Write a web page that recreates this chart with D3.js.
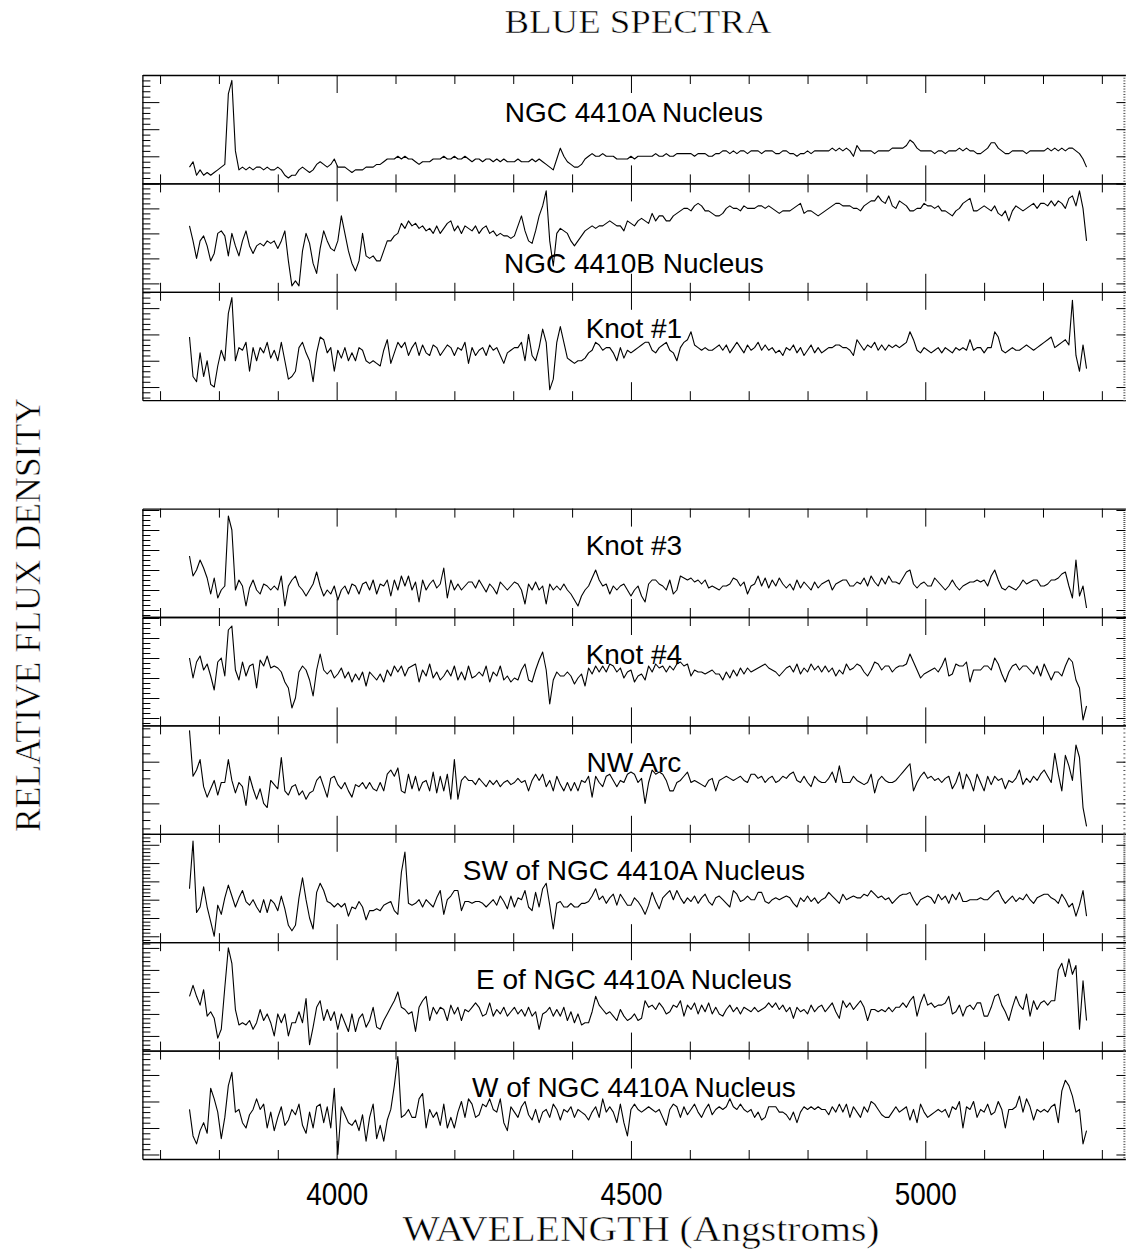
<!DOCTYPE html>
<html>
<head>
<meta charset="utf-8">
<script src="https://cdn.jsdelivr.net/npm/d3@7"></script>
<style>
  body { margin: 0; background: #fff; }
  svg { display: block; }
</style>
</head>
<body>
<svg id="chart" width="1130" height="1255"></svg>
<script>
// wavelength grid shared by all spectra (Angstroms, 6 A bins)
const wavelengths = d3.range(3750, 5275, 6);

const panelNames = ["NGC 4410A Nucleus", "NGC 4410B Nucleus", "Knot #1", "Knot #3", "Knot #4",
  "NW Arc", "SW of NGC 4410A Nucleus", "E of NGC 4410A Nucleus", "W of NGC 4410A Nucleus"];

const xTickLabels = [4000, 4500, 5000];

// relative flux, one value per wavelength bin (rows of 10 bins = 60 A)
const flux4410A = [
  6, 8, 3, 5, 3, 4, 3, 4, 5, 6,
  7, 33, 38, 12, 5, 6, 5, 6, 5, 6,
  6, 5, 6, 5, 5, 6, 5, 3, 2, 3,
  3, 5, 6, 5, 4, 5, 7, 8, 7, 6,
  7, 9, 6, 6, 6, 5, 4, 5, 5, 5,
  6, 6, 6, 7, 7, 8, 9, 9, 9, 10,
  9, 10, 9, 9, 8, 7, 8, 8, 8, 9,
  9, 9, 10, 9, 9, 10, 9, 9, 10, 9,
  8, 9, 9, 8, 9, 9, 8, 9, 8, 9,
  8, 8, 8, 9, 8, 8, 8, 9, 8, 9,
  8, 7, 6, 5, 9, 13, 10, 8, 7, 6,
  6, 7, 9, 10, 11, 10, 10, 11, 10, 10,
  10, 9, 9, 9, 9, 10, 9, 10, 10, 10,
  10, 10, 11, 10, 10, 11, 10, 10, 11, 11,
  11, 11, 11, 10, 11, 11, 11, 10, 10, 11,
  11, 12, 12, 11, 12, 11, 12, 12, 11, 12,
  12, 12, 11, 12, 12, 12, 11, 11, 12, 12,
  11, 11, 10, 11, 11, 12, 11, 12, 12, 12,
  12, 12, 13, 12, 13, 12, 13, 12, 10, 14,
  12, 12, 12, 12, 11, 12, 12, 12, 12, 13,
  13, 13, 13, 14, 16, 15, 13, 12, 12, 12,
  12, 11, 12, 12, 11, 12, 12, 12, 13, 12,
  13, 12, 12, 11, 11, 12, 13, 15, 15, 13,
  12, 11, 11, 12, 12, 12, 12, 11, 12, 12,
  12, 12, 12, 13, 12, 13, 12, 13, 12, 13,
  13, 12, 11, 9, 6
];

const flux4410B = [
  33, 27, 20, 27, 29, 25, 19, 22, 30, 31,
  29, 21, 30, 25, 21, 27, 31, 25, 22, 25,
  26, 25, 27, 26, 27, 24, 27, 31, 19, 9,
  11, 9, 23, 30, 26, 18, 14, 24, 31, 27,
  24, 23, 27, 37, 30, 23, 18, 15, 19, 30,
  21, 20, 21, 19, 19, 23, 27, 27, 29, 30,
  34, 32, 35, 33, 34, 32, 33, 31, 32, 30,
  33, 30, 32, 34, 35, 31, 33, 30, 33, 32,
  31, 33, 30, 32, 33, 30, 31, 29, 30, 29,
  29, 28, 29, 33, 37, 31, 27, 26, 31, 37,
  41, 47, 27, 17, 30, 32, 31, 30, 27, 25,
  27, 29, 31, 32, 33, 32, 33, 33, 34, 35,
  34, 33, 33, 31, 35, 34, 33, 35, 36, 35,
  34, 38, 35, 37, 37, 35, 35, 37, 38, 39,
  40, 40, 39, 41, 42, 41, 39, 39, 38, 37,
  37, 38, 40, 41, 40, 40, 39, 41, 40, 40,
  40, 41, 41, 40, 41, 40, 39, 38, 39, 39,
  39, 40, 41, 42, 38, 39, 39, 38, 37, 38,
  39, 40, 41, 42, 42, 41, 41, 41, 40, 40,
  39, 41, 42, 43, 43, 45, 43, 42, 45, 41,
  40, 43, 42, 41, 39, 39, 40, 40, 42, 41,
  41, 40, 41, 39, 39, 38, 37, 39, 40, 42,
  43, 44, 39, 39, 40, 41, 40, 39, 41, 38,
  37, 39, 35, 39, 41, 40, 39, 40, 41, 42,
  40, 42, 42, 41, 43, 41, 43, 42, 40, 44,
  45, 41, 47, 40, 27
];

const fluxKnot1 = [
  29, 14, 12, 23, 14, 20, 11, 10, 18, 24,
  20, 38, 44, 20, 25, 24, 27, 16, 25, 20,
  25, 23, 27, 21, 24, 20, 27, 20, 13, 14,
  16, 25, 27, 23, 20, 12, 23, 29, 28, 23,
  25, 16, 24, 21, 25, 20, 23, 20, 25, 24,
  20, 19, 20, 19, 18, 24, 28, 19, 23, 27,
  25, 27, 22, 25, 27, 22, 26, 23, 22, 26,
  25, 22, 24, 26, 25, 22, 25, 24, 27, 19,
  25, 22, 24, 25, 22, 26, 24, 25, 22, 19,
  23, 24, 25, 25, 27, 20, 30, 22, 20, 25,
  32, 27, 9, 13, 27, 33, 27, 21, 20, 19,
  20, 20, 21, 23, 24, 27, 26, 24, 25, 25,
  23, 20, 25, 21, 24, 23, 24, 25, 26, 27,
  27, 24, 23, 25, 26, 27, 24, 23, 20, 25,
  27, 28, 31, 26, 25, 24, 25, 24, 24, 25,
  26, 24, 26, 23, 25, 27, 25, 23, 26, 24,
  25, 27, 24, 26, 24, 25, 23, 24, 22, 25,
  24, 26, 23, 25, 22, 24, 26, 23, 25, 23,
  24, 25, 25, 26, 26, 25, 25, 24, 22, 28,
  26, 24, 26, 25, 27, 24, 26, 24, 26, 25,
  26, 25, 26, 27, 31, 28, 24, 23, 25, 24,
  23, 24, 25, 23, 25, 24, 23, 25, 24, 25,
  24, 28, 24, 25, 25, 23, 25, 25, 31, 29,
  24, 23, 24, 25, 24, 24, 25, 26, 25, 24,
  25, 26, 27, 28, 29, 25, 26, 27, 28, 26,
  43, 22, 16, 26, 17
];

const fluxKnot3 = [
  37, 27, 30, 35, 31, 26, 18, 26, 16, 20,
  22, 57, 50, 20, 25, 22, 12, 21, 25, 20,
  18, 23, 22, 20, 22, 20, 27, 12, 22, 25,
  27, 22, 20, 17, 20, 23, 29, 22, 17, 20,
  18, 22, 15, 20, 22, 18, 23, 22, 18, 23,
  24, 20, 25, 18, 23, 22, 25, 17, 25, 20,
  27, 22, 27, 20, 24, 14, 25, 20, 23, 25,
  21, 23, 31, 16, 25, 20, 23, 20, 22, 24,
  24, 21, 25, 22, 19, 23, 21, 18, 24, 22,
  20, 22, 24, 23, 20, 13, 23, 20, 24, 20,
  22, 13, 23, 20, 22, 20, 23, 20, 18, 15,
  12, 17, 20, 22, 26, 30, 25, 22, 23, 18,
  22, 20, 22, 23, 20, 17, 20, 22, 17, 14,
  23, 25, 25, 23, 22, 20, 25, 18, 20, 27,
  26, 25, 26, 24, 25, 23, 25, 21, 22, 21,
  20, 22, 22, 23, 26, 25, 22, 24, 18, 22,
  23, 27, 22, 26, 21, 25, 22, 26, 23, 21,
  23, 20, 25, 21, 24, 22, 20, 24, 21, 23,
  24, 25, 20, 23, 24, 25, 25, 22, 22, 24,
  23, 26, 22, 27, 24, 22, 26, 23, 27, 24,
  24, 23, 26, 29, 30, 23, 21, 23, 24, 22,
  22, 26, 24, 22, 20, 22, 25, 22, 20, 22,
  23, 24, 24, 25, 24, 25, 22, 27, 30, 25,
  21, 20, 22, 21, 20, 22, 25, 23, 24, 25,
  25, 22, 22, 23, 25, 25, 26, 28, 29, 22,
  16, 35, 17, 22, 11
];

const fluxKnot4 = [
  40, 30, 38, 41, 34, 37, 31, 24, 38, 40,
  31, 54, 56, 34, 29, 38, 31, 36, 37, 25,
  39, 36, 41, 35, 36, 35, 33, 28, 25, 15,
  20, 33, 36, 34, 29, 21, 34, 42, 34, 32,
  34, 30, 32, 35, 30, 33, 28, 32, 29, 33,
  26, 33, 31, 29, 32, 28, 34, 31, 36, 33,
  36, 31, 35, 36, 37, 28, 34, 31, 37, 30,
  33, 29, 31, 34, 31, 36, 29, 33, 29, 36,
  30, 31, 33, 31, 36, 28, 33, 31, 36, 29,
  31, 28, 30, 29, 34, 37, 29, 28, 34, 39,
  43, 34, 17, 29, 33, 31, 31, 33, 31, 27,
  30, 32, 26, 35, 32, 36, 33, 36, 33, 37,
  36, 33, 35, 30, 33, 34, 28, 31, 32, 29,
  36, 33, 37, 35, 36, 33, 36, 34, 37, 38,
  36, 37, 31, 34, 33, 33, 32, 33, 34, 32,
  32, 29, 33, 30, 34, 31, 35, 32, 35, 33,
  34, 35, 36, 37, 35, 34, 33, 31, 33, 35,
  36, 33, 37, 32, 35, 33, 37, 34, 36, 33,
  36, 33, 35, 31, 34, 32, 37, 34, 35, 37,
  36, 33, 31, 34, 38, 37, 34, 36, 36, 33,
  35, 36, 36, 37, 42, 38, 34, 30, 32, 33,
  34, 35, 33, 36, 40, 31, 32, 37, 36, 36,
  38, 28, 34, 34, 34, 36, 36, 34, 40, 37,
  32, 28, 33, 36, 37, 34, 36, 36, 34, 32,
  36, 31, 37, 33, 29, 33, 33, 31, 36, 40,
  38, 29, 25, 9, 16
];

const fluxNWArc = [
  55, 33, 36, 41, 28, 23, 27, 31, 24, 30,
  30, 41, 31, 25, 30, 28, 19, 33, 27, 22,
  27, 20, 18, 31, 29, 27, 42, 26, 24, 28,
  29, 24, 26, 22, 25, 26, 31, 33, 28, 23,
  32, 33, 29, 27, 30, 26, 23, 29, 28, 30,
  27, 30, 27, 26, 30, 26, 34, 36, 33, 37,
  26, 25, 34, 27, 33, 26, 30, 31, 26, 35,
  25, 33, 26, 34, 22, 41, 22, 31, 33, 31,
  31, 29, 32, 30, 28, 31, 29, 31, 28, 30,
  31, 29, 30, 32, 30, 31, 26, 31, 34, 31,
  34, 28, 31, 26, 33, 29, 26, 30, 26, 30,
  26, 31, 30, 33, 23, 33, 30, 28, 33, 34,
  31, 28, 31, 30, 34, 35, 34, 30, 32, 20,
  30, 36, 34, 35, 34, 31, 26, 26, 30, 31,
  33, 35, 30, 31, 30, 29, 28, 31, 32, 26,
  31, 32, 33, 32, 31, 32, 33, 31, 30, 34,
  34, 32, 33, 30, 32, 33, 30, 31, 33, 32,
  34, 35, 31, 30, 33, 30, 28, 33, 31, 30,
  30, 32, 35, 30, 38, 30, 30, 30, 33, 31,
  30, 29, 30, 34, 25, 31, 33, 31, 30, 30,
  31, 33, 35, 37, 39, 26, 30, 33, 35, 32,
  33, 31, 32, 30, 32, 33, 27, 30, 35, 27,
  34, 31, 26, 34, 30, 26, 33, 29, 33, 31,
  32, 27, 31, 30, 32, 36, 29, 32, 30, 33,
  31, 34, 36, 33, 30, 44, 34, 26, 43, 38,
  31, 48, 42, 18, 9
];

const fluxSW = [
  36, 62, 23, 26, 37, 26, 18, 10, 27, 22,
  31, 38, 32, 26, 31, 35, 29, 27, 30, 26,
  23, 30, 23, 30, 28, 24, 32, 25, 16, 13,
  16, 31, 42, 30, 20, 14, 34, 39, 35, 29,
  28, 26, 28, 26, 28, 21, 26, 25, 29, 26,
  19, 24, 24, 25, 24, 27, 28, 29, 24, 22,
  45, 56, 28, 27, 28, 30, 26, 30, 28, 26,
  31, 35, 22, 30, 32, 35, 35, 24, 29, 29,
  28, 29, 29, 28, 26, 28, 30, 27, 32, 29,
  25, 32, 26, 31, 30, 35, 26, 24, 34, 26,
  36, 39, 27, 14, 28, 29, 26, 26, 28, 26,
  26, 28, 28, 29, 32, 36, 30, 32, 28, 31,
  33, 27, 33, 30, 27, 27, 31, 29, 26, 22,
  27, 34, 29, 25, 31, 33, 35, 30, 35, 31,
  28, 31, 29, 32, 28, 31, 33, 29, 27, 31,
  32, 30, 28, 26, 35, 33, 29, 30, 32, 30,
  30, 34, 34, 29, 28, 30, 31, 30, 31, 32,
  31, 28, 26, 31, 29, 32, 29, 31, 28, 30,
  31, 34, 32, 30, 28, 33, 30, 31, 32, 31,
  31, 33, 32, 35, 33, 31, 32, 30, 31, 28,
  30, 32, 33, 33, 34, 30, 27, 30, 31, 32,
  31, 28, 33, 30, 32, 28, 33, 30, 34, 29,
  29, 30, 30, 30, 31, 30, 30, 32, 34, 35,
  31, 28, 30, 32, 29, 31, 30, 33, 30, 28,
  31, 32, 33, 33, 31, 30, 28, 33, 30, 26,
  28, 21, 27, 35, 21
];

const fluxE = [
  28, 33, 28, 24, 31, 19, 21, 18, 9, 13,
  32, 50, 43, 22, 15, 16, 15, 17, 13, 16,
  22, 17, 20, 16, 10, 20, 16, 20, 10, 16,
  16, 21, 16, 27, 6, 14, 23, 26, 17, 22,
  17, 21, 13, 20, 16, 12, 20, 12, 18, 20,
  14, 17, 23, 14, 13, 17, 20, 23, 26, 30,
  23, 22, 20, 21, 12, 23, 26, 28, 17, 23,
  20, 23, 22, 17, 24, 20, 23, 17, 22, 21,
  23, 25, 23, 19, 20, 25, 19, 22, 20, 23,
  19, 21, 23, 20, 22, 19, 23, 19, 21, 13,
  20, 21, 23, 19, 22, 19, 23, 17, 21, 16,
  20, 15, 16, 16, 21, 28, 24, 22, 20, 21,
  19, 17, 22, 19, 17, 18, 20, 17, 18, 26,
  23, 24, 22, 25, 23, 20, 21, 24, 23, 26,
  19, 24, 22, 25, 20, 24, 21, 25, 20, 23,
  20, 19, 22, 24, 21, 23, 20, 23, 22, 21,
  23, 21, 22, 23, 25, 23, 25, 22, 24, 21,
  23, 18, 23, 21, 22, 20, 24, 21, 23, 24,
  21, 23, 25, 21, 18, 26, 23, 25, 22, 24,
  26, 23, 17, 22, 22, 21, 22, 21, 23, 21,
  23, 23, 25, 23, 26, 28, 19, 25, 29, 24,
  25, 23, 24, 24, 25, 28, 20, 21, 24, 19,
  23, 24, 22, 25, 25, 19, 19, 23, 28, 29,
  24, 21, 17, 23, 28, 24, 22, 29, 19, 26,
  22, 25, 26, 24, 26, 26, 40, 43, 37, 45,
  38, 42, 13, 35, 17
];

const fluxW = [
  27, 17, 14, 19, 22, 18, 35, 31, 26, 16,
  24, 36, 41, 26, 27, 22, 20, 25, 27, 31,
  27, 29, 20, 26, 19, 24, 28, 21, 23, 27,
  25, 29, 21, 18, 26, 20, 28, 29, 22, 28,
  20, 35, 10, 28, 25, 22, 21, 23, 19, 25,
  15, 24, 29, 16, 21, 15, 23, 27, 36, 47,
  24, 25, 27, 24, 24, 31, 33, 20, 27, 24,
  26, 21, 29, 20, 24, 20, 26, 30, 24, 31,
  29, 24, 25, 29, 28, 31, 27, 26, 31, 22,
  19, 28, 26, 24, 28, 30, 25, 23, 27, 22,
  26, 27, 24, 29, 27, 23, 27, 26, 28, 24,
  27, 26, 25, 23, 26, 28, 24, 31, 26, 28,
  26, 22, 29, 22, 17, 27, 29, 27, 26, 27,
  28, 27, 26, 27, 24, 21, 27, 29, 28, 24,
  28, 25, 27, 29, 26, 24, 27, 29, 25, 27,
  28, 27, 28, 31, 28, 27, 29, 27, 26, 27,
  24, 26, 23, 24, 28, 28, 28, 26, 26, 25,
  23, 26, 22, 26, 28, 27, 28, 27, 28, 27,
  27, 25, 28, 26, 29, 26, 29, 24, 28, 26,
  24, 28, 26, 30, 29, 27, 25, 24, 24, 26,
  28, 26, 27, 28, 23, 27, 22, 29, 26, 24,
  25, 26, 27, 26, 27, 24, 28, 27, 30, 20,
  28, 27, 30, 24, 27, 26, 29, 25, 26, 30,
  27, 20, 27, 27, 28, 32, 26, 31, 28, 23,
  27, 26, 27, 26, 28, 29, 22, 34, 38, 36,
  32, 26, 27, 14, 19
];

// stacked panels: slot 3 is left empty between the two groups
const panels = [
  { name: panelNames[0], flux: flux4410A, slot: 0, domain: [0, 40],      step: 10, div: 5, labelDy: 46.5 },
  { name: panelNames[1], flux: flux4410B, slot: 1, domain: [6.64, 50],   step: 10, div: 5, labelDy: 90 },
  { name: panelNames[2], flux: fluxKnot1, slot: 2, domain: [5, 46.2],    step: 10, div: 5, labelDy: 46.5 },
  { name: panelNames[3], flux: fluxKnot3, slot: 4, domain: [6.5, 60.7],  step: 10, div: 4, labelDy: 46.5 },
  { name: panelNames[4], flux: fluxKnot4, slot: 5, domain: [6.3, 60.5],  step: 10, div: 4, labelDy: 46.5 },
  { name: panelNames[5], flux: fluxNWArc, slot: 6, domain: [5.4, 57.4],  step: 20, div: 5, labelDy: 46.5 },
  { name: panelNames[6], flux: fluxSW,    slot: 7, domain: [6.77, 66],   step: 10, div: 5, labelDy: 46.5 },
  { name: panelNames[7], flux: fluxE,     slot: 8, domain: [3.33, 52.6], step: 10, div: 5, labelDy: 46.5 },
  { name: panelNames[8], flux: fluxW,     slot: 9, domain: [8.3, 49.2],  step: 10, div: 5, labelDy: 46.5 }
];

const W = 1130, H = 1255;
const left = 142.4, right = 1125.4;
const slotTop = 75, slotH = 108.4;
const sansFont = "'Liberation Sans', Arial, Helvetica, sans-serif";
const serifFont = "'Liberation Serif', 'Times New Roman', serif";

const svg = d3.select("#chart").attr("width", W).attr("height", H);

const x = d3.scaleLinear().domain([3670, 5340]).range([left, right]);
const xMajor = [4000, 4500, 5000];
const xMinor = d3.range(3700, 5301, 100).filter(v => !xMajor.includes(v));

function multiples(domain, s) {
  const out = [];
  for (let v = Math.ceil(domain[0] / s - 1e-9) * s; v <= domain[1] + 1e-9; v += s) out.push(+v.toFixed(6));
  return out;
}

function styleAxis(sel, keepDomain) {
  sel.selectAll(".tick line").attr("stroke", "#000").attr("stroke-width", 1);
  if (keepDomain) sel.select(".domain").attr("stroke", "#000").attr("stroke-width", 1.3);
  else sel.select(".domain").remove();
}

const line = d3.line()
  .x((d, i) => x(wavelengths[i]))
  .y(d => d.y);

panels.forEach((p, idx) => {
  const top = slotTop + p.slot * slotH;
  const bottom = top + slotH;
  const y = d3.scaleLinear().domain(p.domain).range([bottom, top]);
  const g = svg.append("g").attr("class", "panel");

  // wavelength ticks along the top and bottom edges
  g.append("g").attr("transform", `translate(0,${top})`)
    .call(d3.axisTop(x).tickValues(xMinor).tickSize(-9).tickSizeOuter(0).tickFormat(""))
    .call(s => styleAxis(s, true));
  g.append("g").attr("transform", `translate(0,${top})`)
    .call(d3.axisTop(x).tickValues(xMajor).tickSize(-18).tickSizeOuter(0).tickFormat(""))
    .call(s => styleAxis(s, false));
  g.append("g").attr("transform", `translate(0,${bottom})`)
    .call(d3.axisBottom(x).tickValues(xMinor).tickSize(-9).tickSizeOuter(0).tickFormat(""))
    .call(s => styleAxis(s, true));
  g.append("g").attr("transform", `translate(0,${bottom})`)
    .call(d3.axisBottom(x).tickValues(xMajor).tickSize(-18).tickSizeOuter(0).tickFormat(""))
    .call(s => styleAxis(s, false));

  // flux ticks: left side long/short, right side short with fine minor marks
  const yMajor = multiples(p.domain, p.step);
  const yMinor = multiples(p.domain, p.step / p.div).filter(v => !yMajor.some(m => Math.abs(m - v) < 1e-6));
  const yFine = multiples(p.domain, p.step / 10);

  g.append("g").attr("transform", `translate(${left},0)`)
    .call(d3.axisLeft(y).tickValues(yMinor).tickSize(-8).tickSizeOuter(0).tickFormat(""))
    .call(s => styleAxis(s, true));
  g.append("g").attr("transform", `translate(${left},0)`)
    .call(d3.axisLeft(y).tickValues(yMajor).tickSize(-17).tickSizeOuter(0).tickFormat(""))
    .call(s => styleAxis(s, false));
  g.append("g").attr("transform", `translate(${right},0)`)
    .call(d3.axisRight(y).tickValues(yFine).tickSize(-2).tickSizeOuter(0).tickFormat(""))
    .call(s => { styleAxis(s, false); s.selectAll(".tick line").attr("stroke", "#555"); });
  g.append("g").attr("transform", `translate(${right},0)`)
    .call(d3.axisRight(y).tickValues(yMajor).tickSize(-9).tickSizeOuter(0).tickFormat(""))
    .call(s => styleAxis(s, false));

  // spectrum
  g.append("path")
    .datum(p.flux.map(v => ({ y: y(v) })))
    .attr("d", line)
    .attr("fill", "none")
    .attr("stroke", "#000")
    .attr("stroke-width", 1.1)
    .attr("stroke-linejoin", "round");

  // panel label
  g.append("text")
    .attr("x", (left + right) / 2)
    .attr("y", top + p.labelDy)
    .attr("text-anchor", "middle")
    .attr("font-family", sansFont)
    .attr("font-size", 28)
    .attr("fill", "#000")
    .text(p.name);
});

// wavelength labels under the last panel
const lastBottom = slotTop + 10 * slotH;
svg.append("g")
  .attr("transform", `translate(0,${lastBottom})`)
  .call(d3.axisBottom(x).tickValues(xTickLabels).tickSize(0).tickPadding(24).tickFormat(d3.format("d")))
  .call(s => {
    s.select(".domain").remove();
    s.selectAll("text")
      .attr("font-family", sansFont)
      .attr("font-size", 31)
      .attr("fill", "#000")
      .attr("textLength", 62)
      .attr("lengthAdjust", "spacingAndGlyphs");
  });

// title and axis titles (thin serif, like the plotting package's stroke font)
function serifText(sel) {
  sel.attr("font-family", serifFont)
    .attr("fill", "#000")
    .attr("stroke", "#fff")
    .attr("stroke-width", 0.5)
    .attr("lengthAdjust", "spacingAndGlyphs");
}

svg.append("text")
  .attr("x", 638).attr("y", 33)
  .attr("text-anchor", "middle")
  .attr("font-size", 33)
  .attr("textLength", 267)
  .call(serifText)
  .text("BLUE SPECTRA");

svg.append("text")
  .attr("x", 641).attr("y", 1241)
  .attr("text-anchor", "middle")
  .attr("font-size", 36)
  .attr("textLength", 477)
  .call(serifText)
  .text("WAVELENGTH (Angstroms)");

svg.append("text")
  .attr("transform", "translate(40,615) rotate(-90)")
  .attr("text-anchor", "middle")
  .attr("font-size", 36)
  .attr("textLength", 434)
  .call(serifText)
  .text("RELATIVE FLUX DENSITY");
</script>
</body>
</html>
